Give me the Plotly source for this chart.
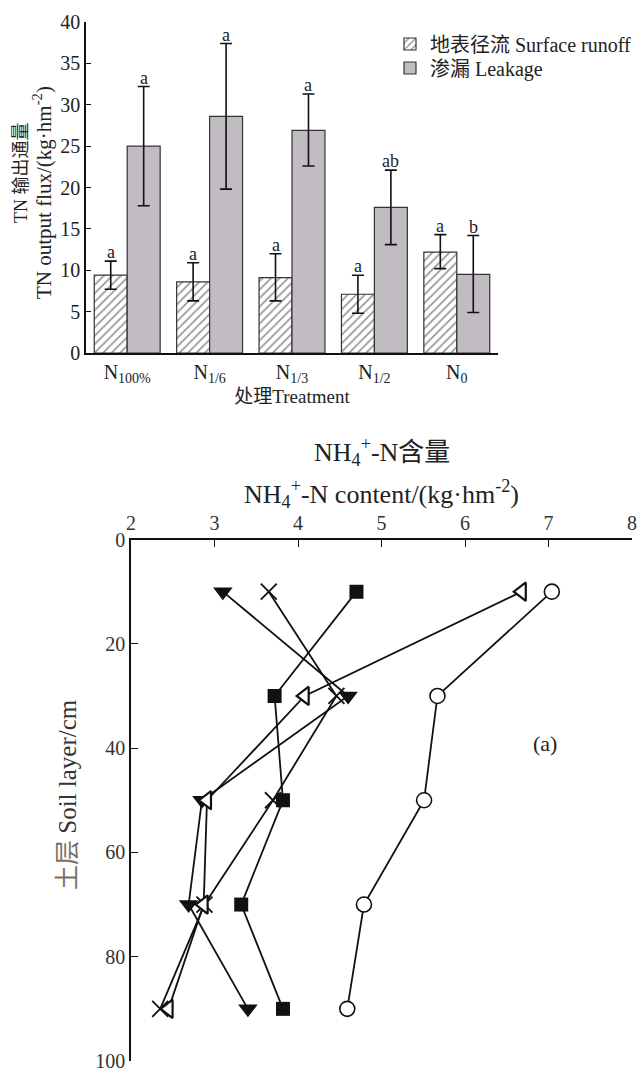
import plotly.graph_objects as go

# ---------------- data: top chart ----------------
treatments = ["N<sub>100%</sub>", "N<sub>1/6</sub>", "N<sub>1/3</sub>", "N<sub>1/2</sub>", "N<sub>0</sub>"]
runoff = [9.4, 8.6, 9.1, 7.1, 12.2]
runoff_hi = [11.1, 10.9, 12.0, 9.4, 14.3]
runoff_lo = [7.7, 6.3, 6.3, 4.8, 10.2]
runoff_sig = ["a", "a", "a", "a", "a"]
leak = [25.0, 28.6, 26.9, 17.6, 9.5]
leak_hi = [32.2, 37.4, 31.3, 22.1, 14.2]
leak_lo = [17.8, 19.8, 22.6, 13.1, 4.9]
leak_sig = ["a", "a", "a", "ab", "b"]

# ---------------- data: bottom chart ----------------
depth = [10, 30, 50, 70, 90]
s_square = [4.70, 3.72, 3.82, 3.32, 3.82]
s_tridown = [3.10, 4.60, 2.85, 2.69, 3.40]
s_cross = [3.65, 4.46, 3.70, 2.88, 2.35]
s_trileft = [6.68, 4.08, 2.91, 2.87, 2.45]
s_circle = [7.04, 5.67, 5.51, 4.79, 4.59]

SERIF = "Liberation Serif, Times New Roman, Noto Sans CJK SC, serif"
H = 1073.0
W = 642.0

fig = go.Figure()

fig.add_trace(go.Bar(
    x=treatments, y=runoff, name="地表径流 Surface runoff", legend="legend",
    marker=dict(color="white", line=dict(color="#333", width=1.2),
                pattern=dict(shape="/", fgcolor="#333", bgcolor="white", size=6, solidity=0.3)),
    error_y=dict(type="data", symmetric=False,
                 array=[h - v for h, v in zip(runoff_hi, runoff)],
                 arrayminus=[v - l for v, l in zip(runoff, runoff_lo)],
                 color="#111", thickness=1.6, width=6),
    xaxis="x", yaxis="y",
))
fig.add_trace(go.Bar(
    x=treatments, y=leak, name="渗漏 Leakage", legend="legend2",
    marker=dict(color="#c0bcc1", line=dict(color="#333", width=1.2)),
    error_y=dict(type="data", symmetric=False,
                 array=[h - v for h, v in zip(leak_hi, leak)],
                 arrayminus=[v - l for v, l in zip(leak, leak_lo)],
                 color="#111", thickness=1.6, width=6),
    xaxis="x", yaxis="y",
))

line_style = dict(color="#111", width=1.8)
fig.add_trace(go.Scatter(x=s_square, y=depth, mode="lines+markers", line=line_style,
                         marker=dict(symbol="square", size=14, color="#111"),
                         xaxis="x2", yaxis="y2", showlegend=False))
fig.add_trace(go.Scatter(x=s_tridown, y=depth, mode="lines+markers", line=line_style,
                         marker=dict(symbol="triangle-down", size=17, color="#111"),
                         xaxis="x2", yaxis="y2", showlegend=False))
fig.add_trace(go.Scatter(x=s_cross, y=depth, mode="lines+markers", line=line_style,
                         marker=dict(symbol="x-thin", size=16, color="#111",
                                     line=dict(color="#111", width=1.8)),
                         xaxis="x2", yaxis="y2", showlegend=False))
fig.add_trace(go.Scatter(x=s_trileft, y=depth, mode="lines+markers", line=line_style,
                         marker=dict(symbol="triangle-left", size=16, color="white",
                                     line=dict(color="#111", width=2.2)),
                         xaxis="x2", yaxis="y2", showlegend=False))
fig.add_trace(go.Scatter(x=s_circle, y=depth, mode="lines+markers", line=line_style,
                         marker=dict(symbol="circle", size=15, color="white",
                                     line=dict(color="#111", width=1.6)),
                         xaxis="x2", yaxis="y2", showlegend=False))

annotations = []
for i, (hi, s) in enumerate(zip(runoff_hi, runoff_sig)):
    annotations.append(dict(x=i - 0.2, y=hi, xref="x", yref="y", text=s, showarrow=False,
                            xanchor="center", yanchor="bottom", yshift=-3,
                            font=dict(family=SERIF, size=18, color="#222")))
for i, (hi, s) in enumerate(zip(leak_hi, leak_sig)):
    annotations.append(dict(x=i + 0.2, y=hi, xref="x", yref="y", text=s, showarrow=False,
                            xanchor="center", yanchor="bottom", yshift=-3,
                            font=dict(family=SERIF, size=18, color="#222")))


def paper_note(px, py, text, size, angle=0, color="#222"):
    return dict(x=px / W, y=1 - py / H, xref="paper", yref="paper", text=text,
                xanchor="center", yanchor="middle", textangle=angle, showarrow=False,
                font=dict(family=SERIF, size=size, color=color))


# top y title (two lines)
annotations.append(paper_note(21, 172, "TN 输出通量", 18, -90))
annotations.append(paper_note(42, 193, "TN output flux/(kg·hm<sup>-2</sup>)", 21, -90))
# bottom titles
annotations.append(paper_note(382, 452, "NH<sub>4</sub><sup>+</sup>-N含量", 26))
annotations.append(paper_note(382, 494, "NH<sub>4</sub><sup>+</sup>-N content/(kg·hm<sup>-2</sup>)", 26))
annotations.append(paper_note(67, 795, "<span style='color:#7a6e66'>土层</span> Soil layer/cm", 25, -90,
                              color="#333"))
annotations.append(dict(x=6.96, y=39.2, xref="x2", yref="y2", text="(a)", showarrow=False,
                        xanchor="center", yanchor="middle",
                        font=dict(family=SERIF, size=22, color="#222")))

legend_common = dict(xanchor="left", yanchor="middle",
                     font=dict(family=SERIF, size=20, color="#222"),
                     bgcolor="rgba(0,0,0,0)", itemwidth=30, borderwidth=0)

fig.update_layout(
    width=642, height=1073, autosize=False,
    margin=dict(l=0, r=0, t=0, b=0, pad=0, autoexpand=False),
    paper_bgcolor="white", plot_bgcolor="white",
    barmode="group", bargap=0.2, bargroupgap=0.0,
    font=dict(family=SERIF, size=18, color="#222"),
    legend=dict(x=390 / W, y=1 - 44 / H, **legend_common),
    legend2=dict(x=390 / W, y=1 - 68 / H, **legend_common),
    xaxis=dict(domain=[86 / W, 498 / W], anchor="y", showline=True, linecolor="#111", linewidth=1.5,
               ticks="", showgrid=False, automargin=False,
               tickfont=dict(family=SERIF, size=20, color="#222"),
               title=dict(text="处理Treatment", font=dict(family=SERIF, size=19, color="#222"), standoff=0),
               range=[-0.5, 4.5]),
    yaxis=dict(domain=[1 - 353 / H, 1 - 22 / H], anchor="x", range=[0, 40], dtick=5,
               showline=True, linecolor="#111", linewidth=1.5, ticks="inside", ticklen=5,
               tickcolor="#111", showgrid=False, zeroline=False, automargin=False,
               tickfont=dict(family=SERIF, size=20, color="#222")),
    xaxis2=dict(domain=[131 / W, 632 / W], anchor="y2", side="top", range=[2, 8], dtick=1,
                showline=True, linecolor="#111", linewidth=1.5, ticks="inside", ticklen=8,
                tickcolor="#111", showgrid=False, zeroline=False, automargin=False,
                tickfont=dict(family=SERIF, size=20, color="#333")),
    yaxis2=dict(domain=[1 - 1061 / H, 1 - 539.5 / H], anchor="x2", range=[100, 0], dtick=20,
                showline=True, linecolor="#111", linewidth=1.5, ticks="inside", ticklen=7,
                tickcolor="#111", showgrid=False, zeroline=False, automargin=False,
                tickfont=dict(family=SERIF, size=20, color="#333")),
    annotations=annotations,
)

fig.write_html("out.html", config={"displayModeBar": False},
               post_script="document.body.style.margin='0';document.body.style.overflow='hidden';")
